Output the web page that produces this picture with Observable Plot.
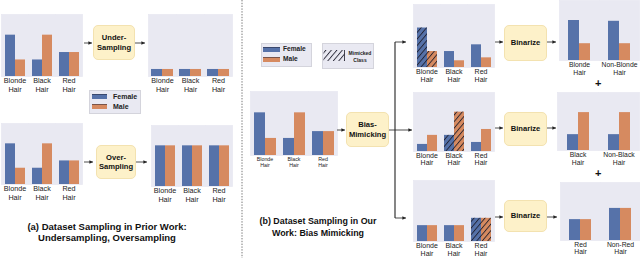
<!DOCTYPE html>
<html><head><meta charset="utf-8">
<script src="https://cdn.jsdelivr.net/npm/d3@7"></script>
<script src="https://cdn.jsdelivr.net/npm/@observablehq/plot@0.6"></script>
<style>
body{margin:0;background:#fff;}
#c{position:relative;width:640px;height:258px;overflow:hidden;font-family:"Liberation Sans",Arial,sans-serif;color:#111;}
.p{position:absolute;}
.p svg{overflow:visible;}
.box{position:absolute;background:#fdf1c9;border:0.5px solid #f3e2b0;border-radius:5px;display:flex;align-items:center;justify-content:center;text-align:center;font-weight:bold;font-size:7.6px;line-height:1.2;color:#111;box-sizing:border-box;}
.leg{position:absolute;background:#e9e9f2;border:0.5px solid #d4d4dc;box-sizing:border-box;}
.sw{position:absolute;box-sizing:border-box;border-top:0.6px solid rgba(30,30,50,0.5);}
.lt{position:absolute;font-size:7px;line-height:1;color:#222;font-weight:bold;}
.cap{position:absolute;text-align:center;font-weight:bold;color:#111;white-space:nowrap;}
.plus{position:absolute;font-weight:bold;font-size:11px;line-height:1;}
</style></head><body>
<svg width="0" height="0" style="position:absolute"><defs>
<pattern id="hatch" patternUnits="userSpaceOnUse" width="4.2" height="4.2" patternTransform="rotate(40)"><line x1="0.5" y1="0" x2="0.5" y2="4.2" stroke="#1c1c2a" stroke-width="0.85"/></pattern>
<marker id="ah" viewBox="0 0 6 6" refX="6" refY="3" markerUnits="userSpaceOnUse" markerWidth="3.6" markerHeight="3.6" orient="auto"><path d="M0,0L6,3L0,6z" fill="#222"/></marker>
</defs></svg>
<div id="c"></div>
<script>
const sexes = ["Female", "Male"];
const sexColors = ["#5672a9", "#d68a60"];
const hair = ["Blonde Hair", "Black Hair", "Red Hair"];

// (a) prior work
const origFemale = [100, 40, 58];
const origMale = [40, 100, 58];
const underFemale = [17, 17, 17];
const underMale = [17, 17, 17];
const overFemale = [100, 100, 100];
const overMale = [100, 100, 100];

// (b) bias mimicking
const oursFemale = [100, 40, 56];
const oursMale = [40, 100, 56];
const blondeMimFemale = [94, 38, 54];
const blondeMimMale = [38, 16, 23];
const blackMimFemale = [18, 41, 23];
const blackMimMale = [41, 100, 56];
const redMimFemale = [39, 39, 57];
const redMimMale = [39, 39, 57];

const blondeBin = ["Blonde Hair", "Non-Blonde Hair"];
const blondeBinFemale = [100, 98];
const blondeBinMale = [42, 42];
const blackBin = ["Black Hair", "Non-Black Hair"];
const blackBinFemale = [41, 41];
const blackBinMale = [98, 98];
const redBin = ["Red Hair", "Non-Red Hair"];
const redBinFemale = [54, 83];
const redBinMale = [54, 83];

const BG = "#e9e9f2";
const FONT = '"Liberation Sans", Arial, sans-serif';
const root = document.getElementById("c");

function panel({cats, female, male, hatch, left, top, width, frameH, labelSize, lh, pad}) {
  const data = cats.flatMap((c, i) => [
    {cat: c, sex: "Female", v: female[i]},
    {cat: c, sex: "Male", v: male[i]}
  ]);
  const mb = 22;
  const marks = [
    Plot.frame({fill: BG, stroke: BG, strokeWidth: 0.8}),
    Plot.barY(data, {fx: "cat", x: "sex", y: "v", fill: "sex", inset: 0}),
    Plot.ruleY(data, {fx: "cat", x: "sex", y: "v", stroke: "#2a2a3a", strokeOpacity: 0.55, strokeWidth: 0.7})
  ];
  if (hatch) {
    marks.push(Plot.barY(data.filter(d => d.cat === hatch), {fx: "cat", x: "sex", y: "v", fill: "url(#hatch)", inset: 0}));
  }
  marks.push(Plot.text(cats, {
    fx: d => d, text: d => d.replace(" ", "\n"), frameAnchor: "bottom", lineAnchor: "top",
    dy: 1, fontSize: labelSize, lineHeight: lh, fill: "#222"
  }));
  const chart = Plot.plot({
    width, height: frameH + mb,
    marginTop: 0, marginLeft: 0, marginRight: 0, marginBottom: mb,
    fx: {domain: cats, padding: 0, axis: null},
    x: {domain: sexes, paddingInner: 0, paddingOuter: pad, axis: null},
    y: {domain: [0, 150], axis: null},
    color: {domain: sexes, range: sexColors},
    style: {fontFamily: FONT, background: "transparent", overflow: "visible"},
    marks
  });
  const d = document.createElement("div");
  d.className = "p";
  d.style.left = left + "px";
  d.style.top = top + "px";
  d.appendChild(chart);
  root.appendChild(d);
}

// (a)
panel({cats: hair, female: origFemale, male: origMale, left: 0, top: 14, width: 83, frameH: 62, labelSize: 7.2, lh: 1.15, pad: 0.26});
panel({cats: hair, female: underFemale, male: underMale, left: 148, top: 14, width: 84, frameH: 62, labelSize: 7.2, lh: 1.15, pad: 0.26});
panel({cats: hair, female: origFemale, male: origMale, left: 0, top: 123, width: 83, frameH: 61, labelSize: 7.2, lh: 1.15, pad: 0.26});
panel({cats: hair, female: overFemale, male: overMale, left: 150, top: 125, width: 82, frameH: 61, labelSize: 7.2, lh: 1.15, pad: 0.24});
// (b)
panel({cats: hair, female: oursFemale, male: oursMale, left: 250, top: 91, width: 87, frameH: 64, labelSize: 5.3, lh: 1.15, pad: 0.3});
panel({cats: hair, female: blondeMimFemale, male: blondeMimMale, hatch: "Blonde Hair", left: 413, top: 4, width: 81, frameH: 63, labelSize: 7, lh: 1.15, pad: 0.24});
panel({cats: hair, female: blackMimFemale, male: blackMimMale, hatch: "Black Hair", left: 413, top: 92, width: 81, frameH: 59, labelSize: 7, lh: 1.05, pad: 0.24});
panel({cats: hair, female: redMimFemale, male: redMimMale, hatch: "Red Hair", left: 412, top: 180, width: 83, frameH: 61, labelSize: 7, lh: 1.1, pad: 0.26});
panel({cats: blondeBin, female: blondeBinFemale, male: blondeBinMale, left: 558, top: 0, width: 81, frameH: 60, labelSize: 6.8, lh: 1.15, pad: 0.69});
panel({cats: blackBin, female: blackBinFemale, male: blackBinMale, left: 557, top: 92, width: 82, frameH: 58, labelSize: 6.8, lh: 1.15, pad: 0.72});
panel({cats: redBin, female: redBinFemale, male: redBinMale, left: 559, top: 182, width: 81, frameH: 58, labelSize: 6.8, lh: 1.05, pad: 0.69});

// process boxes
function box(html, l, t, w, h) {
  const d = document.createElement("div");
  d.className = "box";
  Object.assign(d.style, {left: l + "px", top: t + "px", width: w + "px", height: h + "px"});
  d.innerHTML = html;
  root.appendChild(d);
}
box("Under-<br>Sampling", 93, 25, 42, 35);
box("Over-<br>Sampling", 96, 145, 40, 34);
box("Bias-<br>Mimicking", 346, 112, 43, 35);
box("Binarize", 504, 25, 43, 36);
box("Binarize", 504, 112, 43, 34);
box("Binarize", 504, 200, 43, 32);

// legends
function el(cls, css, html) {
  const d = document.createElement("div");
  d.className = cls;
  Object.assign(d.style, css);
  if (html) d.innerHTML = html;
  root.appendChild(d);
  return d;
}
el("leg", {left: "89px", top: "90px", width: "52px", height: "24px"});
el("sw", {left: "92px", top: "94px", width: "15px", height: "5px", background: sexColors[0]});
el("sw", {left: "92px", top: "104px", width: "15px", height: "5px", background: sexColors[1]});
el("lt", {left: "113px", top: "93px"}, sexes[0]);
el("lt", {left: "113px", top: "103px"}, sexes[1]);

el("leg", {left: "261px", top: "43px", width: "51px", height: "24px"});
el("sw", {left: "263px", top: "47px", width: "17px", height: "5px", background: sexColors[0]});
el("sw", {left: "263px", top: "57px", width: "17px", height: "5px", background: sexColors[1]});
el("lt", {left: "283px", top: "46px", fontSize: "6.6px"}, sexes[0]);
el("lt", {left: "283px", top: "56px", fontSize: "6.6px"}, sexes[1]);

el("leg", {left: "322px", top: "43px", width: "52px", height: "26px"});
el("lt", {left: "346px", top: "50px", fontSize: "5px", textAlign: "center", width: "28px", lineHeight: "1.3"}, "Mimicked<br>Class");

// captions
el("cap", {left: "7px", top: "222px", width: "200px", lineHeight: "10.5px", fontSize: "9.5px"}, "(a) Dataset Sampling in Prior Work:<br>Undersampling, Oversampling");
el("cap", {left: "218px", top: "216px", width: "200px", lineHeight: "11.5px", fontSize: "8.9px"}, "(b) Dataset Sampling in Our<br>Work: Bias Mimicking");
el("plus", {left: "595px", top: "78px"}, "+");
el("plus", {left: "595px", top: "168px"}, "+");

// connectors overlay
const lines = [
  [84, 43, 92, 43, 1], [135, 43, 145, 43, 1],
  [84, 162, 93, 162, 1], [136, 162, 147, 162, 1],
  [337, 130, 345, 130, 1], [389, 130, 412, 130, 1],
  [395, 42, 395, 218, 0], [395, 42, 406, 42, 1], [395, 218, 406, 218, 1],
  [495, 42, 503, 42, 1], [547, 42, 556, 42, 1],
  [495, 128, 503, 128, 1], [547, 128, 556, 128, 1],
  [495, 217, 503, 217, 1], [547, 217, 557, 217, 1]
];
let s = '<svg width="640" height="258" style="position:absolute;left:0;top:0;pointer-events:none">';
s += '<line x1="242" y1="0" x2="242" y2="258" stroke="#555" stroke-width="0.8" stroke-dasharray="1.4,1.4"/>';
for (const [x1, y1, x2, y2, a] of lines) {
  s += `<line x1="${x1}" y1="${y1}" x2="${x2}" y2="${y2}" stroke="#222" stroke-width="${a ? 0.8 : 1.1}" ${a ? 'marker-end="url(#ah)"' : ''}/>`;
}
s += '<rect x="323.5" y="50" width="21" height="11" fill="url(#hatch)"/>';
s += '<line x1="344.5" y1="50" x2="344.5" y2="61" stroke="#1c1c2a" stroke-width="0.8"/>';
s += '</svg>';
root.insertAdjacentHTML("beforeend", s);
</script>
</body></html>
